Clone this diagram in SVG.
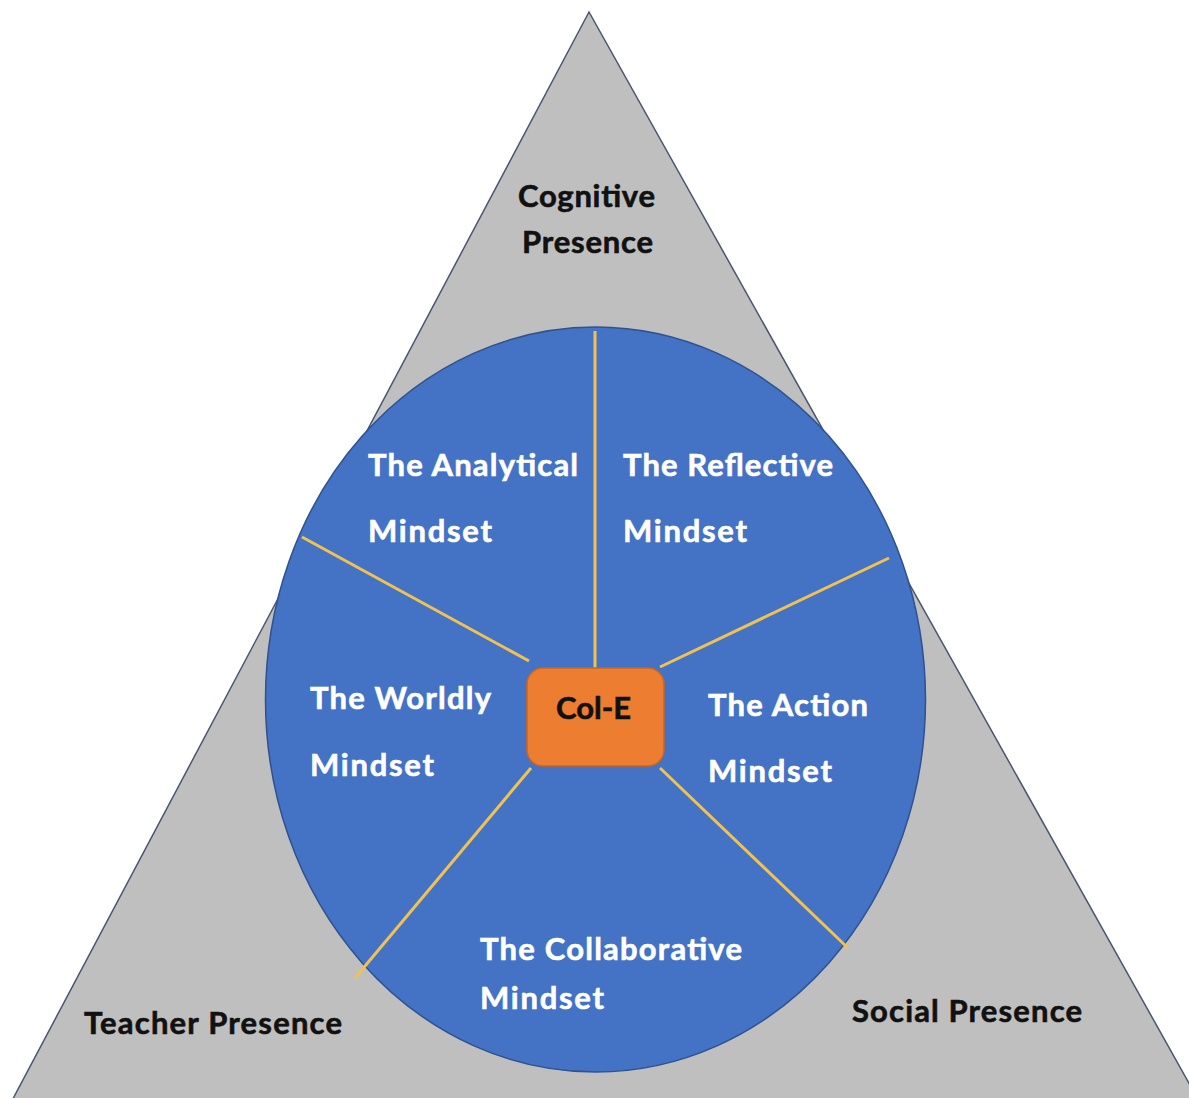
<svg xmlns="http://www.w3.org/2000/svg" width="1189" height="1098" viewBox="0 0 1189 1098">
  <style>
    .dark { font-family: Lato, "Open Sans", "Liberation Sans", sans-serif; font-weight: 700; font-size: 31px; fill: #111111; stroke: #111111; stroke-width: 0.6; }
    .light { font-family: Lato, "Open Sans", "Liberation Sans", sans-serif; font-weight: 700; font-size: 31px; fill: #ffffff; stroke: #ffffff; stroke-width: 0.6; }
    .spoke { stroke: #efc253; stroke-width: 3; stroke-linecap: butt; }
  </style>
  <rect width="1189" height="1098" fill="#ffffff"/>

  <!-- Community of Inquiry triangle -->
  <g id="triangle">
    <polygon points="589,12 7,1110 1204,1110" fill="#bfbfbf" stroke="#4a5670" stroke-width="1.5"/>
  </g>

  <!-- mindset disc -->
  <g id="disc">
    <ellipse cx="595.5" cy="699.5" rx="330" ry="372.5" fill="#4472c4" stroke="#2f528f" stroke-width="1.5"/>
  </g>

  <!-- spokes dividing the disc -->
  <g id="connectors">
    <line class="spoke" x1="595" y1="331" x2="595" y2="668"/>
    <line class="spoke" x1="302" y1="537" x2="529" y2="661"/>
    <line class="spoke" x1="889" y1="558" x2="660" y2="667"/>
    <line class="spoke" x1="355" y1="978" x2="531" y2="768"/>
    <line class="spoke" x1="848" y1="948" x2="660" y2="768"/>
  </g>

  <g id="cole">
    <rect x="527" y="668" width="137" height="98" rx="16" ry="16" fill="#ed7d31" stroke="#c9661f" stroke-width="1.5"/>
    <text class="dark" x="593.5" y="719" text-anchor="middle" textLength="75">Col-E</text>
  </g>

  <g id="cognitive-presence">
    <text class="dark" x="518" y="207" textLength="137">Cognitive</text>
    <text class="dark" x="522" y="253" textLength="131">Presence</text>
  </g>

  <g id="teacher-presence">
    <text class="dark" x="84" y="1034" textLength="258">Teacher Presence</text>
  </g>

  <g id="social-presence">
    <text class="dark" x="852" y="1022" textLength="230">Social Presence</text>
  </g>

  <g id="analytical">
    <text class="light" x="368" y="476" textLength="210">The Analytical</text>
    <text class="light" x="368" y="542" textLength="124">Mindset</text>
  </g>

  <g id="reflective">
    <text class="light" x="623" y="476" textLength="210">The Reflective</text>
    <text class="light" x="623" y="542" textLength="124">Mindset</text>
  </g>

  <g id="worldly">
    <text class="light" x="310" y="709" textLength="181">The Worldly</text>
    <text class="light" x="310" y="776" textLength="124">Mindset</text>
  </g>

  <g id="action">
    <text class="light" x="708" y="716" textLength="160">The Action</text>
    <text class="light" x="708" y="782" textLength="124">Mindset</text>
  </g>

  <g id="collaborative">
    <text class="light" x="480" y="960" textLength="262">The Collaborative</text>
    <text class="light" x="480" y="1009" textLength="124">Mindset</text>
  </g>
</svg>
